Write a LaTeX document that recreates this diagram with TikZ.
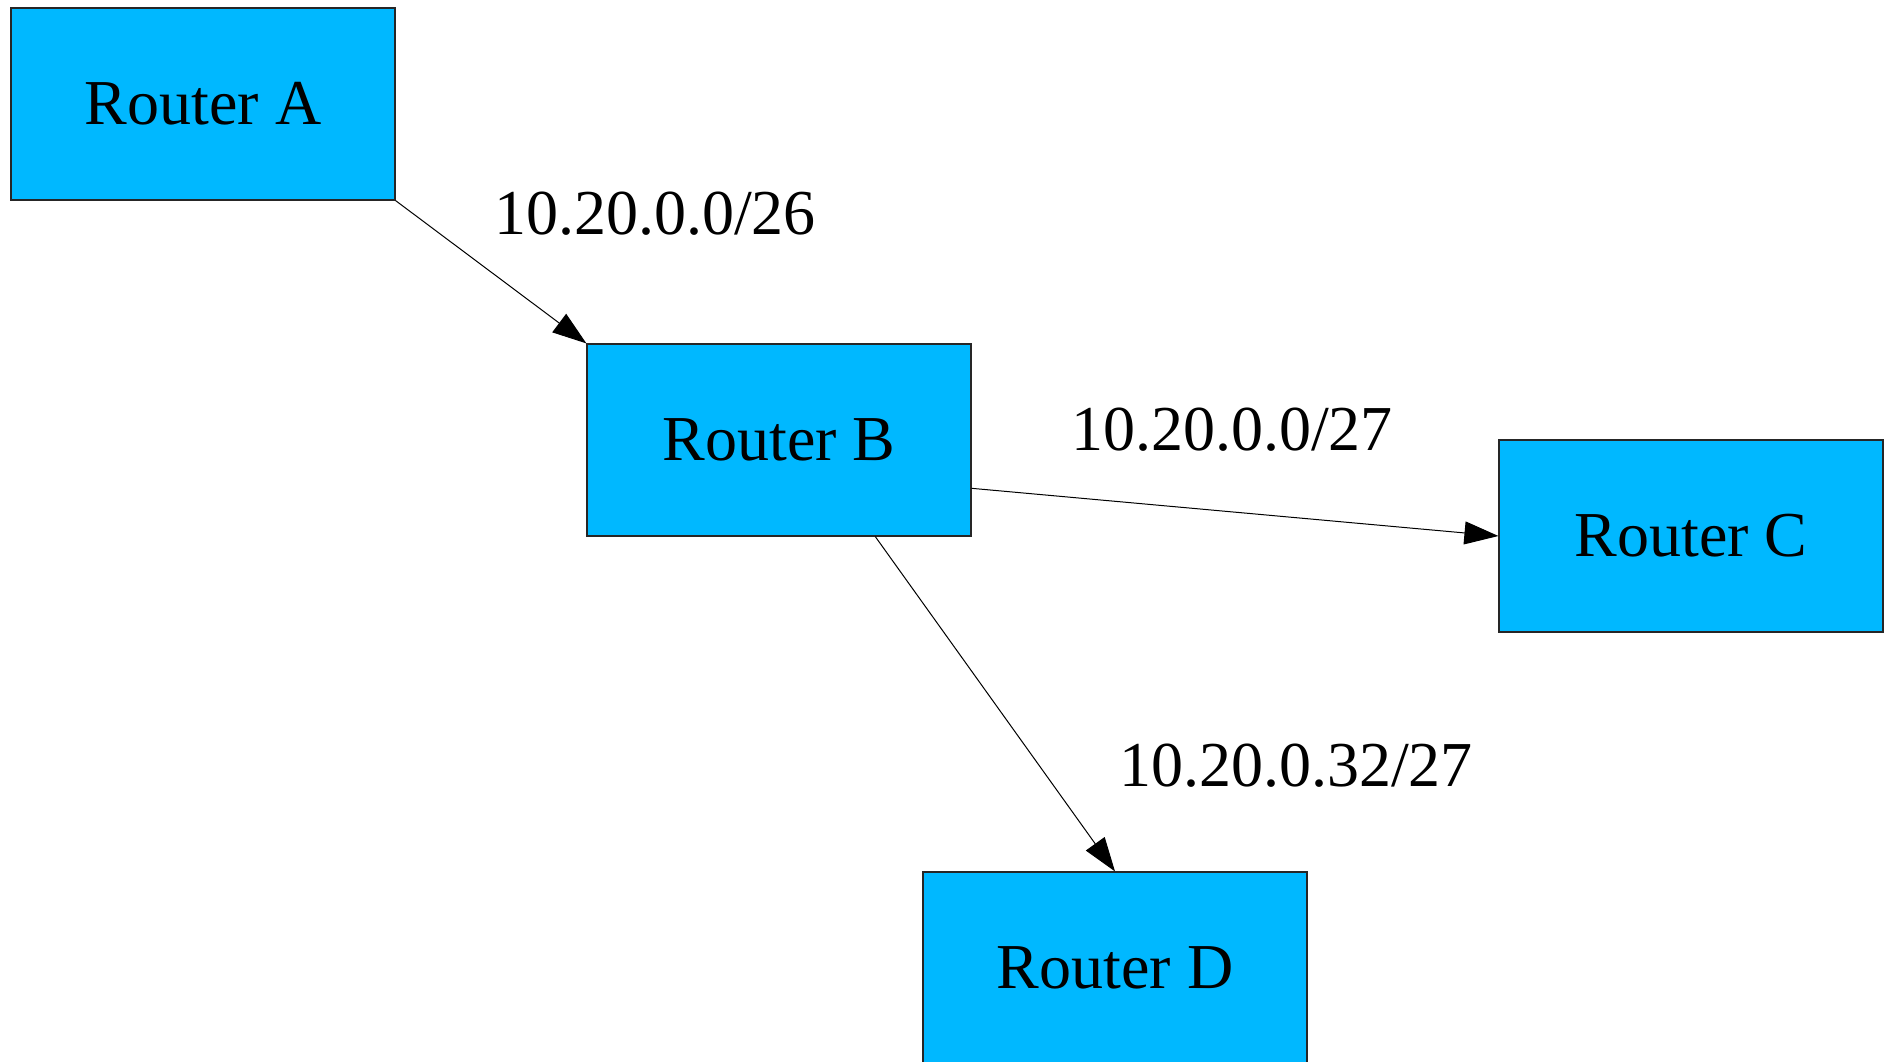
\documentclass[tikz,border=0pt]{standalone}
\usepackage{fontspec}
\setmainfont{Liberation Serif}
\usetikzlibrary{arrows.meta,calc}
\definecolor{routerfill}{HTML}{00B8FF}
\begin{document}
\begin{tikzpicture}[x=0.5pt,y=-0.5pt,
  router/.style={draw=black!85, line width=0.6pt, fill=routerfill,
    minimum width=192pt, minimum height=96pt, inner sep=0pt,
    font=\fontsize{32}{38}\selectfont},
  lbl/.style={font=\fontsize{32}{38}\selectfont, inner sep=0pt, anchor=base},
  link/.style={line width=0.5pt, -{Triangle[length=17pt,width=11.5pt]}}]
\useasboundingbox[fill=white] (0,0) rectangle (1888,1061);
\node[router] (A) at (203,104) {Router A};
\node[router] (B) at (779,440) {Router B};
\node[router] (C) at (1691,536) {Router C};
\node[router] (D) at (1115,968) {Router D};
\node[lbl] (l1) at (655,234) {10.20.0.0/26};
\node[lbl] (l2) at (1232,450) {10.20.0.0/27};
\node[lbl] (l3) at (1296,786) {10.20.0.32/27};
\draw[link] (A.south east) -- (B.north west);
\draw[link] ($(B.south east)!0.25!(B.north east)$) -- (C.west);
\draw[link] ($(B.south west)!0.75!(B.south east)$) -- (D.north);
\end{tikzpicture}
\end{document}
